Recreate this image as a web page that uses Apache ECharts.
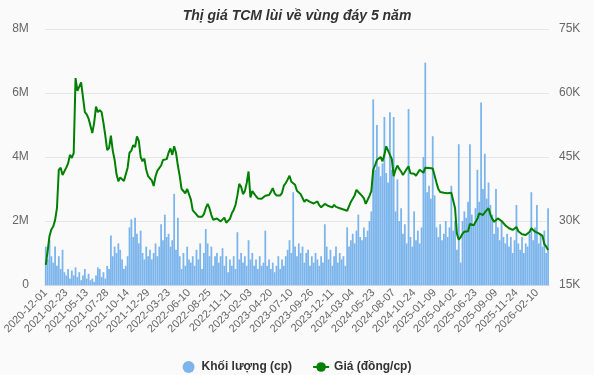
<!DOCTYPE html>
<html>
<head>
<meta charset="utf-8">
<script src="https://cdn.jsdelivr.net/npm/echarts@6/dist/echarts.min.js"></script>
<style>
html,body{margin:0;padding:0;background:#fafafa;}
#chart{width:594px;height:375px;}
</style>
</head>
<body>
<div id="chart"></div>
<script>
// Tick label dates (every 11 weekly points)
const tickDates = ['2020-12-01','2021-02-23','2021-05-13','2021-07-28','2021-10-14','2021-12-29','2022-03-23','2022-06-10','2022-08-25','2022-11-11','2023-02-03','2023-04-20','2023-07-10','2023-09-26','2023-12-11','2024-03-04','2024-05-23','2024-08-07','2024-10-24','2025-01-09','2025-04-02','2025-06-23','2025-09-09','2025-11-24','2026-02-10'];

// Price (thousand VND / share), weekly samples
const price = [
19.7,23,26.5,28,28.7,30.2,33,42,42.5,40.8,
41.2,42.5,43.5,45.5,44.8,45.9,63.5,60.5,60.5,62.5,
59,55.5,55,54,52.3,50.6,53,56.8,55.5,56,
55.5,53,50,46.6,47.1,50,46.5,44.3,41,39.3,
40.2,39.8,39.4,39,42.5,46,46.5,47.8,47.3,49.8,
48.8,45,44,44.6,42,40.5,40,39.5,38.2,40.5,
41.8,42.2,43,44.3,44,44.5,46,47,45.5,47.5,
46,43,40.5,37.5,37.2,36.5,37.5,37.6,35,32.5,
32,32.2,31,31.4,31,31.6,33,34,33,31.4,
30.3,30,30.6,30.5,29.9,29.6,30.8,29.6,29.3,30.5,
31.8,32.6,33.8,36,38.7,38,36.3,37,38.9,41.6,
35.5,37,36.4,35.8,35.3,34.9,35.2,35.4,35.9,36.1,
36.1,36.8,37.7,36.5,36,35.8,36,36.6,38.3,38.9,
39.7,40.6,39.2,39,38.5,37.1,36.8,36.3,35.4,34.5,
35,35,34.5,34.3,34.1,34.5,34.6,33.7,33.2,33.4,
34,33.8,33.5,33.3,33.2,33.8,33.3,33.1,33,32.9,
32.7,32.6,32.4,33.5,34.5,35.2,36,37.3,36.8,36.4,
35.9,35.3,34,34.3,35.9,37,42,43.1,44.3,44,
45,44,45.5,47.5,46.5,45.5,44.5,40.5,42,43,
42.2,41.6,40.8,41.2,42.2,42.8,41.2,41.3,41.1,40.6,
41,42,41.6,41.3,42.5,42.8,42.4,42.2,42.3,42.1,
39,37.5,36.8,36.5,36.6,36.4,36.5,36.2,36.6,36.5,
33,27,25.6,26.2,27,27.5,27.3,27.6,29.3,29,
29,28.8,30.5,31.8,31.6,31.4,32,32.4,33,31.5,
30.5,29.8,30.2,30.6,31,30,29.5,29,28.6,28.3,
28.1,27.9,28.3,28.6,27.6,27.2,26.9,26.7,26.7,26.8,
27.4,28.3,28,27.5,27.3,27.1,26.9,26.5,24.6,24,23.2
];

// Volume (million shares), weekly samples
const volume = [
1.2,0.8,1.4,0.9,0.7,1.2,0.6,0.9,0.5,1.1,
0.4,0.3,0.5,0.2,0.45,0.3,0.55,0.25,0.4,0.15,
0.3,0.5,0.2,0.35,0.15,0.2,0.1,0.3,0.55,0.5,
0.25,0.4,0.2,0.6,0.5,1.55,0.9,1.2,1.0,1.3,
1.1,0.8,0.5,0.6,0.9,1.8,2.05,1.5,2.1,1.6,
1.3,1.7,1.0,0.8,1.2,0.9,1.1,0.8,1.0,1.3,
0.9,1.2,1.9,1.4,2.2,1.5,1.6,1.2,1.4,2.85,
1.1,2.1,0.9,0.5,1.0,0.6,1.2,0.8,0.7,0.9,
0.6,1.1,0.8,1.3,0.5,1.0,1.75,1.3,0.9,1.2,
0.6,0.9,1.0,0.7,0.9,1.15,0.6,0.9,0.4,0.8,
0.6,0.9,0.5,1.65,0.8,1.0,0.7,0.9,0.6,1.4,
0.8,1.0,0.6,0.8,0.5,0.9,0.6,0.7,1.7,0.6,
0.8,0.5,0.7,0.4,0.6,0.9,0.5,0.8,0.6,0.9,
1.1,1.4,1.0,2.9,1.2,0.9,1.3,1.0,1.2,0.7,
1.0,1.1,0.6,0.9,0.7,1.0,0.8,0.6,0.9,0.7,
1.9,1.2,0.8,1.1,0.6,0.9,1.2,0.7,1.0,0.8,
0.9,0.6,1.8,1.2,1.4,1.6,1.3,1.7,2.2,1.5,
1.4,1.8,1.5,1.7,2.0,2.3,5.8,3.6,5.0,3.7,
3.4,3.8,5.25,3.5,3.2,5.4,3.6,5.25,2.3,3.3,
2.0,2.4,1.6,1.9,1.3,5.5,1.5,1.2,2.3,1.4,
1.7,1.3,1.8,4.0,6.95,2.9,3.1,2.7,4.65,2.8,
1.8,1.5,1.9,1.4,1.6,2.0,1.5,1.8,3.1,1.7,
2.0,1.1,4.4,0.7,2.0,2.3,2.1,2.6,4.4,2.2,
1.9,2.4,3.6,2.6,5.7,3.0,4.1,2.7,3.2,2.5,
2.2,1.6,3.0,1.8,1.4,2.0,1.5,1.3,1.6,1.2,
1.5,1.0,1.4,2.5,1.3,1.1,1.5,1.0,1.3,1.2,
1.6,2.9,1.4,1.8,2.5,1.3,1.6,1.2,1.7,1.0,2.4
];

const STEP = 11;
function fmt(d){
  const m = String(d.getUTCMonth()+1).padStart(2,'0');
  const dd = String(d.getUTCDate()).padStart(2,'0');
  return d.getUTCFullYear()+'-'+m+'-'+dd;
}
const categories = [];
for (let k = 0; k < tickDates.length && categories.length < price.length; k++) {
  for (let j = 0; j < STEP && categories.length < price.length; j++) {
    const d = new Date(tickDates[k] + 'T00:00:00Z');
    d.setUTCDate(d.getUTCDate() + 7*j);
    categories.push(j === 0 ? tickDates[k] : fmt(d));
  }
}

const FONT = '"Liberation Sans", Arial, Helvetica, sans-serif';
const chart = echarts.init(document.getElementById('chart'), null, {renderer:'canvas'});
chart.setOption({
  backgroundColor: '#fafafa',
  animation: false,
  textStyle: {fontFamily: FONT},
  title: {
    text: 'Thị giá TCM lùi về vùng đáy 5 năm',
    left: 'center', top: 4,
    textStyle: {fontFamily: FONT, fontSize: 14, fontStyle: 'italic', fontWeight: 'bold', color: '#333'}
  },
  legend: {
    top: 356, left: 'center',
    itemGap: 20, itemWidth: 16, itemHeight: 12,
    textStyle: {fontFamily: FONT, fontSize: 12, color: '#333', fontWeight: 'bold'},
    data: [
      {name: 'Khối lượng (cp)', icon: 'circle', itemStyle: {color: '#7cb5ec'}},
      {name: 'Giá (đồng/cp)'}
    ]
  },
  grid: {left: 39, right: 45, top: 29, bottom: 90, containLabel: false},
  xAxis: {
    type: 'category',
    data: categories,
    boundaryGap: true,
    axisLine: {lineStyle: {color: '#ccd6eb'}},
    axisTick: {interval: STEP-1, length: 6, lineStyle: {color: '#ccd6eb'}},
    axisLabel: {interval: STEP-1, rotate: 45, fontSize: 11, color: '#666', fontFamily: FONT, margin: 6}
  },
  yAxis: [
    {
      type: 'value', min: 0, max: 8, interval: 2,
      axisLine: {show: false}, axisTick: {show: false},
      splitLine: {lineStyle: {color: '#e6e6e6'}},
      axisLabel: {formatter: v => v === 0 ? '0' : v + 'M', fontSize: 12, color: '#666', fontFamily: FONT, margin: 16}
    },
    {
      type: 'value', min: 15, max: 75, interval: 15,
      axisLine: {show: false}, axisTick: {show: false},
      splitLine: {show: false},
      axisLabel: {formatter: v => v + 'K', fontSize: 12, color: '#666', fontFamily: FONT, margin: 10}
    }
  ],
  series: [
    {
      name: 'Khối lượng (cp)', type: 'bar', yAxisIndex: 0,
      data: volume, barCategoryGap: '4%',
      itemStyle: {color: '#7cb5ec'}
    },
    {
      name: 'Giá (đồng/cp)', type: 'line', yAxisIndex: 1,
      data: price, symbol: 'circle', symbolSize: 7, showSymbol: false,
      lineStyle: {color: '#008000', width: 2},
      itemStyle: {color: '#008000'}
    }
  ]
});
</script>
</body>
</html>
